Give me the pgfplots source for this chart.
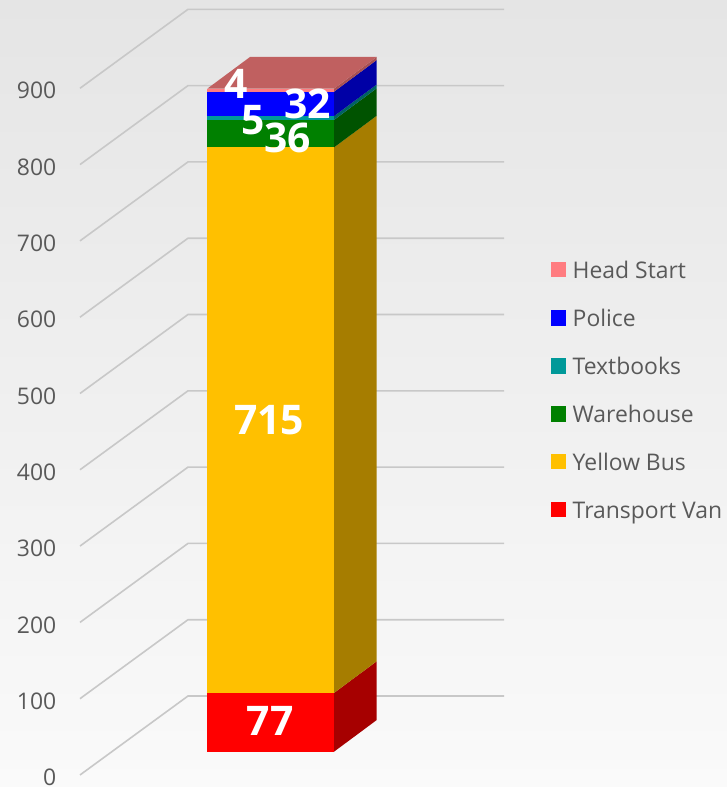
\documentclass[border=0pt]{standalone}
\usepackage{pgfplots}
\pgfplotsset{compat=1.18}
\usepackage{fontspec}
\setmainfont{Open Sans}
\definecolor{cHS}{HTML}{FF7C80}
\definecolor{cPol}{HTML}{0000FF}
\definecolor{cTxt}{HTML}{009999}
\definecolor{cWh}{HTML}{008000}
\definecolor{cYB}{HTML}{FFC000}
\definecolor{cTV}{HTML}{FF0000}
\definecolor{sHS}{HTML}{A65053}
\definecolor{sPol}{HTML}{0000A6}
\definecolor{sTxt}{HTML}{006363}
\definecolor{sWh}{HTML}{005300}
\definecolor{sYB}{HTML}{A67D00}
\definecolor{sTV}{HTML}{A60000}
\definecolor{tHS}{HTML}{C06060}
\definecolor{tickgray}{HTML}{595959}
\definecolor{gridc}{HTML}{C8C8C8}
\definecolor{bgtop}{HTML}{E5E5E5}
\definecolor{bgbot}{HTML}{FAFAFA}
\tikzset{lbl/.style={text=white, font=\fontsize{41}{41}\selectfont\bfseries, inner sep=0pt, text depth=0pt, anchor=center}}
\pgfplotsset{common/.style={width=727bp, height=787bp, scale only axis,
  xmin=0, xmax=727, ymin=-46.26, ymax=985.2, clip=false},
  gl/.style={draw=gridc, line width=1.6bp, mark=none, forget plot}}
\begin{document}
\begin{tikzpicture}
% ---------- back layer: walls, gridlines, side and top faces ----------
\begin{axis}[name=back, common,
  axis line style={draw=none}, major tick length=0pt, tick style={draw=none},
  xtick=\empty,
  ytick={-30.5,69.5,169.5,269.5,369.5,469.5,569.5,669.5,769.5,869.5},
  yticklabels={0,100,200,300,400,500,600,700,800,900},
  yticklabel style={anchor=east, inner sep=0pt, xshift=56.5bp, yshift=-2.5bp,
    font=\fontsize{23}{23}\selectfont, text=tickgray},
  axis background/.style={shade, top color=bgtop, bottom color=bgbot}]
% gridlines: side wall (diagonal) + back wall (horizontal)
\addplot[gl] coordinates {(80,-30.5) (188,73) (504,73)};
\addplot[gl] coordinates {(80,69.5) (188,173) (504,173)};
\addplot[gl] coordinates {(80,169.5) (188,273) (504,273)};
\addplot[gl] coordinates {(80,269.5) (188,373) (504,373)};
\addplot[gl] coordinates {(80,369.5) (188,473) (504,473)};
\addplot[gl] coordinates {(80,469.5) (188,573) (504,573)};
\addplot[gl] coordinates {(80,569.5) (188,673) (504,673)};
\addplot[gl] coordinates {(80,669.5) (188,773) (504,773)};
\addplot[gl] coordinates {(80,769.5) (188,873) (504,873)};
\addplot[gl] coordinates {(80,869.5) (188,973) (504,973)};
% side faces (cumulative values, shifted back by the depth)
\addplot[fill=sTV, draw=none, forget plot] coordinates {(334,0) (376.7,41.5) (376.7,118.5) (334,77)};
\addplot[fill=sYB, draw=none, forget plot] coordinates {(334,77) (376.7,118.5) (376.7,833.5) (334,792)};
\addplot[fill=sWh, draw=none, forget plot] coordinates {(334,792) (376.7,833.5) (376.7,869.5) (334,828)};
\addplot[fill=sTxt, draw=none, forget plot] coordinates {(334,828) (376.7,869.5) (376.7,874.5) (334,833)};
\addplot[fill=sPol, draw=none, forget plot] coordinates {(334,833) (376.7,874.5) (376.7,906.5) (334,865)};
\addplot[fill=sHS, draw=none, forget plot] coordinates {(334,865) (376.7,906.5) (376.7,910.5) (334,869)};
% top face
\addplot[fill=tHS, draw=none, forget plot] coordinates {(207.3,869) (250,910.5) (376.7,910.5) (334,869)};
\end{axis}
% ---------- front layer: stacked bar fronts and legend ----------
\begin{axis}[common, hide axis,
  ybar stacked, bar width=126.7,
  legend image code/.code={\fill[#1, draw=none] (0bp,0.7bp) rectangle (15bp,15.7bp);},
  reverse legend,
  legend style={draw=none, fill=none, inner sep=0pt, outer sep=0pt,
    at={(rel axis cs:0.7575,0.6681)}, anchor=north west,
    font=\fontsize{23}{23}\selectfont, text=tickgray,
    nodes={inner sep=0pt, text height=17bp, text depth=5bp, anchor=base west},
    row sep=26bp, column sep=7bp},
  legend cell align=left]
\addplot[fill=cTV, draw=none] coordinates {(270.65,77)};
\addplot[fill=cYB, draw=none] coordinates {(270.65,715)};
\addplot[fill=cWh, draw=none] coordinates {(270.65,36)};
\addplot[fill=cTxt, draw=none] coordinates {(270.65,5)};
\addplot[fill=cPol, draw=none] coordinates {(270.65,32)};
\addplot[fill=cHS, draw=none] coordinates {(270.65,4)};
\legend{Transport Van, Yellow Bus, Warehouse, Textbooks, Police, Head Start}
\end{axis}
% ---------- label layer ----------
\begin{axis}[common, hide axis]
\node[lbl] at (axis cs:270,40.2) {77};
\node[lbl] at (axis cs:269,434.7) {715};
\node[lbl] at (axis cs:287.5,804.3) {36};
\node[lbl] at (axis cs:253,828.6) {5};
\node[lbl] at (axis cs:307.5,848.9) {32};
\node[lbl] at (axis cs:236,875.8) {4};
\end{axis}
\pgfresetboundingbox
\path (back.south west) rectangle (back.north east);
\end{tikzpicture}
\end{document}
